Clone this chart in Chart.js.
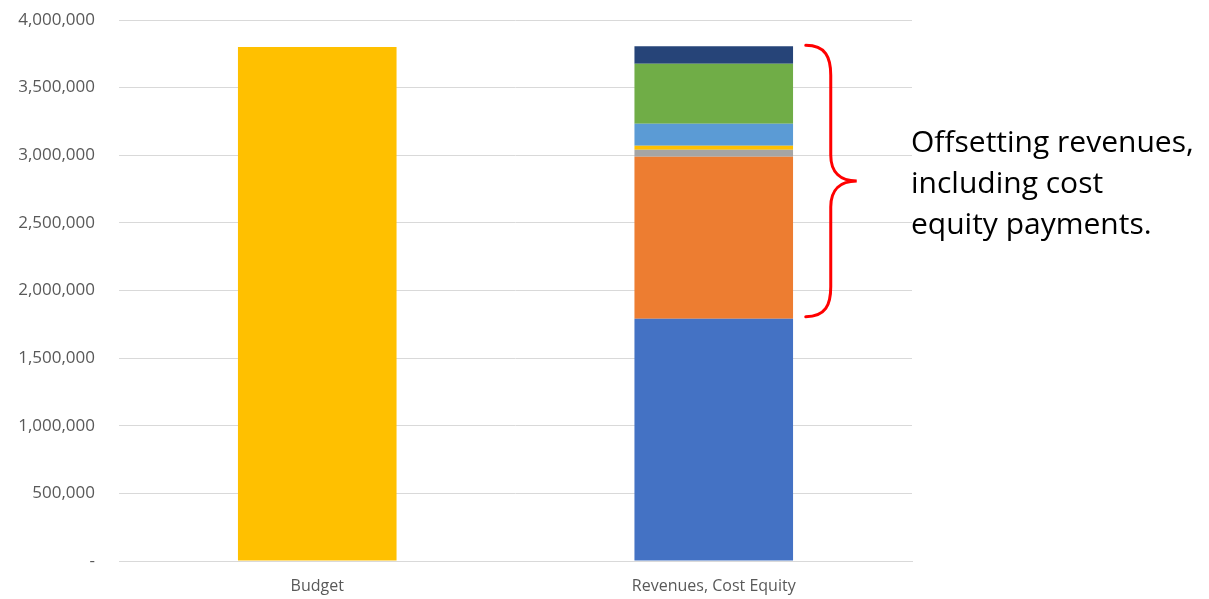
<!DOCTYPE html>
<html>
<head>
<meta charset="utf-8">
<script src="https://cdn.jsdelivr.net/npm/chart.js@4.4.1/dist/chart.umd.min.js"></script>
<style>
  html, body { margin: 0; padding: 0; background: #ffffff; }
  #wrap { position: relative; width: 1209px; height: 599px; }
</style>
</head>
<body>
<div id="wrap"><canvas id="c" width="1209" height="599"></canvas></div>
<script>
const categories = ["Budget", "Revenues, Cost Equity"];
const budget = [3800000, null];
const revBase = [null, 1792000];
const revOrange = [null, 1196000];
const revGray = [null, 52000];
const revYellow = [null, 30000];
const revLightBlue = [null, 163000];
const revGreen = [null, 444000];
const revNavy = [null, 128000];
const yTicks = [0, 500000, 1000000, 1500000, 2000000, 2500000, 3000000, 3500000, 4000000];
const annotationLines = ["Offsetting revenues,", "including cost", "equity payments."];

const series = [
  { label: "Budget", data: budget, color: "#FFC000" },
  { label: "Base", data: revBase, color: "#4472C4" },
  { label: "Orange", data: revOrange, color: "#ED7D31" },
  { label: "Gray", data: revGray, color: "#A5A5A5" },
  { label: "Yellow", data: revYellow, color: "#FFC000" },
  { label: "Light blue", data: revLightBlue, color: "#5B9BD5" },
  { label: "Green", data: revGreen, color: "#70AD47" },
  { label: "Navy", data: revNavy, color: "#264478" }
];

const bracePlugin = {
  id: "brace",
  afterDatasetsDraw(chart) {
    const ctx = chart.ctx;
    const xs = chart.scales.x, ys = chart.scales.y;
    const idx = 1;
    let total = 0;
    for (let i = 1; i < series.length; i++) total += series[i].data[idx] || 0;
    const top = ys.getPixelForValue(total) - 1;
    const bot = ys.getPixelForValue(revBase[idx]) - 2;
    const mid = (top + bot) / 2;
    const xL = xs.getPixelForValue(idx) + 92;
    const xV = xL + 25;
    const xT = xL + 51;
    ctx.save();
    ctx.strokeStyle = "#FF0000";
    ctx.lineWidth = 3;
    ctx.lineCap = "round";
    ctx.beginPath();
    ctx.moveTo(xL, top);
    ctx.bezierCurveTo(xL + 20, top, xV, top + 12, xV, top + 30);
    ctx.lineTo(xV, mid - 26);
    ctx.bezierCurveTo(xV, mid - 8, xV + 10, mid, xT, mid);
    ctx.bezierCurveTo(xV + 10, mid, xV, mid + 8, xV, mid + 26);
    ctx.lineTo(xV, bot - 30);
    ctx.bezierCurveTo(xV, bot - 12, xL + 20, bot, xL, bot);
    ctx.stroke();

    ctx.fillStyle = "#000000";
    ctx.font = "30px 'Open Sans'";
    ctx.textAlign = "left";
    ctx.textBaseline = "alphabetic";
    const tx = chart.chartArea.right - 1;
    annotationLines.forEach((t, i) => {
      ctx.fillText(t, tx, 152 + i * 41);
    });
    ctx.restore();
  }
};

new Chart(document.getElementById("c"), {
  type: "bar",
  data: {
    labels: categories,
    datasets: series.map(s => ({
      label: s.label,
      data: s.data,
      backgroundColor: s.color,
      borderWidth: 0,
      stack: "s",
      categoryPercentage: 1.0,
      barPercentage: 0.4
    }))
  },
  options: {
    responsive: false,
    animation: false,
    layout: { padding: { top: 20, right: 297, bottom: 0, left: 0 } },
    plugins: { legend: { display: false }, tooltip: { enabled: false } },
    scales: {
      x: {
        stacked: true,
        afterFit(scale) { scale.height = 38; scale.paddingLeft = 0; scale.paddingRight = 0; },
        grid: { display: false, drawTicks: false },
        border: { display: true, color: "#d9d9d9", width: 1 },
        ticks: { color: "#595959", font: { family: "'Open Sans'", size: 16 }, padding: 16 }
      },
      y: {
        stacked: true,
        min: 0,
        max: 4000000,
        afterBuildTicks(scale) { scale.ticks = yTicks.map(v => ({ value: v })); },
        afterFit(scale) { scale.width = 119; scale.paddingTop = 0; scale.paddingBottom = 0; },
        grid: { color: "#d9d9d9", lineWidth: 1, drawTicks: false },
        border: { display: false },
        ticks: {
          color: "#595959",
          font: { family: "'Open Sans'", size: 17 },
          padding: 24,
          callback: v => v === 0 ? "-" : Number(v).toLocaleString("en-US")
        }
      }
    }
  },
  plugins: [bracePlugin]
});
</script>
</body>
</html>
